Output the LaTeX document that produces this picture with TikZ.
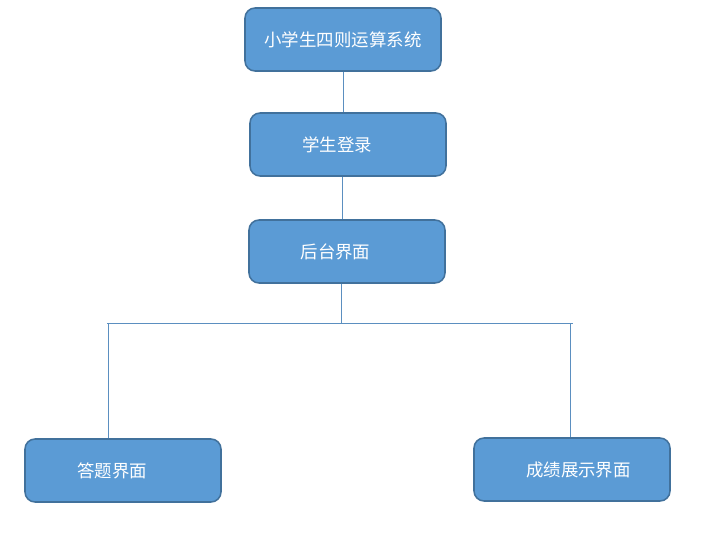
\documentclass[tikz,border=0pt]{standalone}
\usepackage{fontspec}
\newfontfamily\cjk{Noto Sans CJK SC}
\usetikzlibrary{positioning,calc}
\definecolor{boxfill}{HTML}{5B9BD5}
\definecolor{boxline}{HTML}{41719C}
\definecolor{wire}{HTML}{5B8FC0}

\begin{document}
\begin{tikzpicture}[
  box/.style={rectangle, draw=boxline, fill=boxfill, line width=1.1pt, rounded corners=0.25cm, align=center,
    minimum width=4.9cm, minimum height=1.575cm, inner sep=0pt, text=white, font=\cjk\fontsize{12.4}{14}\selectfont},
  link/.style={draw=wire, line width=0.6pt},
]
\useasboundingbox (0,0) rectangle (17.725,-13.65);

% === MODULE TREE ===
\node[box] (sys) at (8.575, -0.9875) {小学生四则运算系统};
\node[box] (login) at (8.7, -3.6125) {学生登录\hspace{0.55cm}};
\node[box] (back) at (8.675, -6.2875) {后台界面\hspace{0.575cm}};
\node[box] (answer) at (3.075, -11.7625) {答题界面\hspace{0.55cm}};
\node[box] (score) at (14.3, -11.7375) {\hspace{0.325cm}成绩展示界面};

\coordinate (busL) at (2.7, -8.075);
\coordinate (busR) at (14.25, -8.075);

\draw[link] (sys.south) -- (sys.south |- login.north);
\draw[link] ([xshift=-0.15cm]login.south) -- ([xshift=-0.15cm]login.south |- back.north);
\draw[link] ([xshift=-0.15cm]back.south) -- ([xshift=-0.15cm]back.south |- busL);
\draw[link] ([xshift=-0.03cm]busL) -- ([xshift=0.08cm]busR);
\draw[link] (busL) -- (busL |- answer.north);
\draw[link] (busR) -- (busR |- score.north);
\end{tikzpicture}
\end{document}
